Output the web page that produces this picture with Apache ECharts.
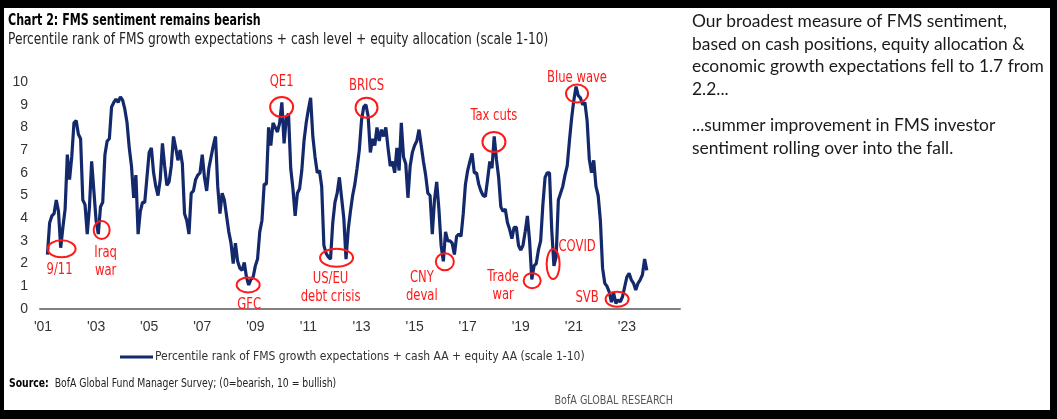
<!DOCTYPE html>
<html><head><meta charset="utf-8">
<script src="https://cdn.jsdelivr.net/npm/echarts@6/dist/echarts.min.js"></script>
<style>html,body{margin:0;padding:0;background:#000;} #c{width:1057px;height:419px;}</style>
</head><body><div id="c"></div>
<script>
// Monthly series, first value = March 2001, last = October 2023
const startYear = 2001, startMonth = 3;
const sentiment = [
  2.4, 3.8, 4.1, 4.2, 4.8, 4.3, 2.7, 3.6, 4.4, 6.8,                 // 2001 Mar-Dec
  5.7, 6.7, 8.2, 8.3, 7.7, 7.5, 4.8, 4.6, 3.3, 4.5, 6.5, 5.2,        // 2002
  3.9, 3.3, 4.5, 4.7, 6.8, 7.4, 7.5, 8.9, 9.1, 9.25, 9.1, 9.35,      // 2003
  9.2, 8.8, 8.2, 7.1, 6.3, 4.9, 5.9, 3.3, 4.3, 4.7, 4.7, 5.8,        // 2004
  6.9, 7.1, 6.0, 5.4, 5.0, 5.7, 7.3, 6.3, 5.45, 5.6, 6.3, 7.6,       // 2005
  7.1, 6.55, 7.0, 6.4, 4.2, 3.9, 3.3, 5.1, 5.2, 5.7, 5.9, 6.0,       // 2006
  6.8, 5.8, 5.2, 6.2, 6.7, 7.2, 7.6, 5.4, 4.2, 5.1, 4.8, 4.1,        // 2007
  3.4, 2.9, 2.0, 2.9, 2.1, 1.8, 1.7, 2.05, 1.4, 1.06, 1.3, 1.4,      // 2008
  1.9, 2.2, 3.4, 3.9, 5.5, 5.5, 8.0, 7.2, 8.2, 8.0, 7.8, 8.2,        // 2009
  9.1, 7.3, 8.4, 8.6, 6.2, 5.3, 4.1, 5.1, 5.3, 6.1, 7.4, 8.2,        // 2010
  8.8, 9.3, 7.6, 6.7, 6.0, 6.1, 5.4, 2.8, 2.45, 2.3, 2.2, 3.8,       // 2011
  4.7, 5.1, 5.8, 4.9, 4.0, 2.2, 3.5, 4.3, 5.0, 5.5, 6.2, 7.0,        // 2012
  8.3, 8.9, 9.0, 8.5, 6.9, 7.5, 7.2, 8.0, 7.4, 7.9, 7.6, 8.0,        // 2013
  7.1, 6.3, 6.5, 6.0, 7.1, 6.1, 8.2, 6.7, 6.4, 4.9, 6.3, 6.9,        // 2014
  7.2, 7.4, 7.9, 7.2, 6.5, 5.9, 5.1, 5.0, 3.3, 4.8, 5.6, 4.4,        // 2015
  2.8, 2.1, 3.4, 3.0, 3.0, 2.9, 2.4, 3.2, 3.3, 3.2, 4.2, 5.5,        // 2016
  6.1, 6.5, 6.85, 6.0, 6.0, 5.5, 5.2, 5.0, 4.95, 5.7, 6.5, 6.2,      // 2017
  7.6, 6.6, 5.8, 4.5, 4.3, 4.4, 3.8, 3.5, 3.1, 3.6, 3.6, 2.8,        // 2018
  2.6, 2.8, 3.4, 4.1, 3.0, 1.3, 1.9, 2.0, 2.6, 3.0, 4.6, 5.8,        // 2019
  6.0, 6.0, 3.5, 1.9, 2.3, 4.8, 5.1, 5.4, 5.9, 6.3, 7.4, 8.4,        // 2020
  9.2, 9.8, 9.4, 9.3, 9.0, 9.1, 8.3, 6.6, 6.0, 6.55, 5.4, 5.0,       // 2021
  3.9, 1.8, 1.13, 1.0, 0.75, 0.3, 0.7, 0.25, 0.4, 0.32, 0.54, 0.98,  // 2022
  1.42, 1.57, 1.28, 1.13, 0.84, 1.13, 1.28, 1.5, 2.2, 1.7            // 2023 Jan-Oct
];
const xTickYears = [2001, 2003, 2005, 2007, 2009, 2011, 2013, 2015, 2017, 2019, 2021, 2023];
const yTicks = [0, 1, 2, 3, 4, 5, 6, 7, 8, 9, 10];
const seriesName = 'Percentile rank of FMS growth expectations + cash AA + equity AA (scale 1-10)';

// Event annotations (circle centre in data coordinates: year, value)
const annText  = ['9/11', 'Iraq\nwar', 'GFC', 'QE1', 'US/EU\ndebt crisis', 'BRICS', 'CNY\ndeval', 'Tax cuts', 'Trade\nwar', 'COVID', 'Blue wave', 'SVB'];
const annYear  = [2001.70, 2003.21, 2008.73, 2009.99, 2012.06, 2013.19, 2016.14, 2017.99, 2019.43, 2020.22, 2021.12, 2022.63];
const annValue = [2.65, 3.48, 1.06, 8.90, 2.26, 8.87, 2.08, 7.36, 1.25, 1.98, 9.49, 0.43];

// ---- layout / style (not data) ----
const annLayout = [
  {w: 28, h: 17, dx: -2, dy: 21},
  {w: 16, h: 18, dx: 4, dy: 32},
  {w: 23, h: 15, dx: 1, dy: 20},
  {w: 23, h: 20, dx: 0, dy: -25},
  {w: 33, h: 18, dx: -6, dy: 30},
  {w: 22, h: 20, dx: 0, dy: -22},
  {w: 18, h: 17, dx: -23, dy: 25},
  {w: 23, h: 20, dx: 0, dy: -26},
  {w: 17, h: 15, dx: -29, dy: 5},
  {w: 13, h: 30, dx: 24, dy: -17},
  {w: 22, h: 18, dx: 0, dy: -15},
  {w: 23, h: 15, dx: -30, dy: -1}
];
const COND = "'DejaVu Sans Condensed', 'DejaVu Sans', sans-serif";
const NAVY = '#13296b';
const RED = '#ff1a1a';

const lineData = sentiment.map((v, i) => {
  const mIdx = (startMonth - 1) + i;
  return [startYear + mIdx / 12, v];
});
const annData = annYear.map((y, i) => [y, annValue[i], i]);

const chart = echarts.init(document.getElementById('c'), null, {renderer: 'canvas'});
chart.setOption({
  backgroundColor: '#000',
  animation: false,
  grid: {left: 40, right: 377, top: 82, bottom: 110, containLabel: false},
  legend: {
    data: [seriesName],
    left: 115, top: 346,
    icon: 'rect', itemWidth: 33, itemHeight: 3, itemGap: 0,
    textStyle: {fontFamily: COND, fontSize: 12, color: '#333', padding: [0, 0, 0, -3]}
  },
  xAxis: {
    type: 'value', min: 2000.887, max: 2025.0,
    axisLine: {show: true, lineStyle: {color: '#808080', width: 2}},
    axisTick: {show: false},
    splitLine: {show: false},
    axisLabel: {
      customValues: xTickYears,
      formatter: v => "'" + String(Math.round(v)).slice(2),
      fontFamily: "'Liberation Sans', sans-serif", fontSize: 14, color: '#333', margin: 11
    }
  },
  yAxis: {
    type: 'value', min: 0, max: 10, interval: 1,
    axisLine: {show: false}, axisTick: {show: false}, splitLine: {show: false},
    axisLabel: {
      customValues: yTicks,
      fontFamily: "'Liberation Sans', sans-serif", fontSize: 14, color: '#333', margin: 12
    }
  },
  series: [
    {
      name: seriesName, type: 'line', data: lineData, showSymbol: false,
      lineStyle: {color: NAVY, width: 3.2}, itemStyle: {color: NAVY}, z: 3
    },
    {
      type: 'custom', data: annData, z: 4, silent: true,
      renderItem: (params, api) => {
        const i = api.value(2);
        const p = api.coord([api.value(0), api.value(1)]);
        const L = annLayout[i];
        return {
          type: 'group',
          children: [
            {type: 'ellipse', shape: {cx: p[0], cy: p[1], rx: L.w / 2, ry: L.h / 2},
             style: {fill: null, stroke: RED, lineWidth: 2}},
            {type: 'text', x: p[0] + L.dx, y: p[1] + L.dy, scaleX: 0.86,
             style: {text: annText[i], fill: RED, fontFamily: COND, fontSize: 15,
                     align: 'center', verticalAlign: 'middle', lineHeight: 18}}
          ]
        };
      }
    }
  ],
  graphic: [
    {type: 'rect', z: -100, shape: {x: 4, y: 8, width: 1046, height: 402}, style: {fill: '#fff'}, silent: true},
    {type: 'text', x: 8, y: 21, scaleX: 0.77, style: {text: 'Chart 2: FMS sentiment remains bearish', fontFamily: COND, fontWeight: 'bold', fontSize: 16, fill: '#000', verticalAlign: 'middle'}},
    {type: 'text', x: 8, y: 40, scaleX: 0.905, style: {text: 'Percentile rank of FMS growth expectations + cash level + equity allocation (scale 1-10)', fontFamily: COND, fontSize: 15, fill: '#222', verticalAlign: 'middle'}},
    {type: 'text', x: 9, y: 384, scaleX: 0.86, style: {
      text: '{b|Source:}  BofA Global Fund Manager Survey; (0=bearish, 10 = bullish)',
      fontFamily: COND, fontSize: 12, fill: '#222', verticalAlign: 'middle',
      rich: {b: {fontFamily: COND, fontSize: 12, fontWeight: 'bold', fill: '#000'}}}},
    {type: 'text', x: 673, y: 401, scaleX: 0.89, style: {text: 'BofA GLOBAL RESEARCH', fontFamily: COND, fontSize: 12, fill: '#555', align: 'right', verticalAlign: 'middle'}},
    {type: 'text', x: 692, y: 10, style: {
      text: 'Our broadest measure of FMS sentiment,\nbased on cash positions, equity allocation &\neconomic growth expectations fell to 1.7 from\n2.2...',
      fontFamily: "Lato, sans-serif", fontSize: 17.4, lineHeight: 22.7, fill: '#1a1a1a', verticalAlign: 'top'}},
    {type: 'text', x: 692, y: 114, style: {
      text: '...summer improvement in FMS investor\nsentiment rolling over into the fall.',
      fontFamily: "Lato, sans-serif", fontSize: 17.4, lineHeight: 23, fill: '#1a1a1a', verticalAlign: 'top'}}
  ]
});
</script></body></html>
